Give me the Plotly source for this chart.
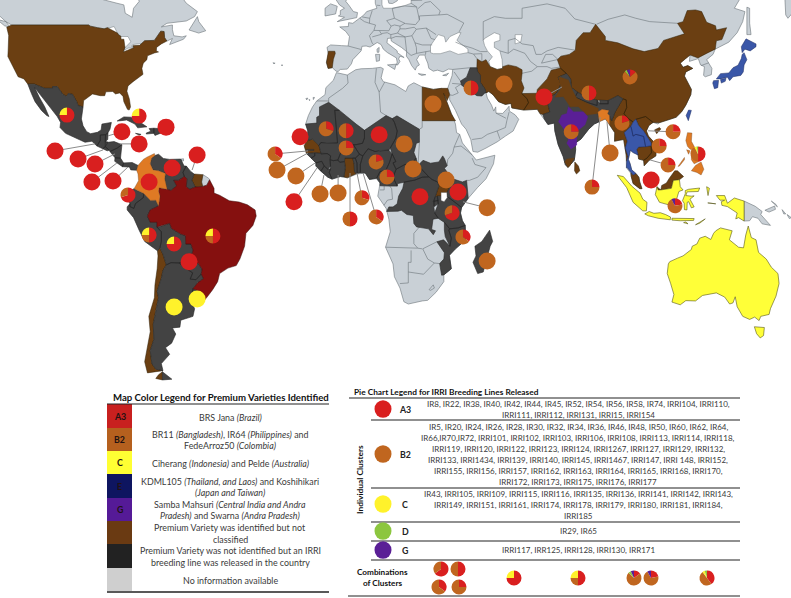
import numpy as np
import plotly.graph_objects as go

W, H = 791, 598
# ---------- map window (degrees) ----------
LON_RANGE = [-127.13, 157.9]
LAT_RANGE = [-57.9, 56.46]
MAP_BOTTOM_PX = 383
# the source map's latitude scale is not uniform: true latitude -> drawn latitude offset (degrees)
LAT_KNOTS = [-60, -55, -44, -34, -11, -7, 0, 12, 25, 45, 49, 60]
LAT_SHIFT = [-2.1, -2.1, -0.9, 0.6, -0.3, -0.6, -1.2, -1.8, -1.5, -0.6, 0, 0]

# ---------- simplified geography, (lon, lat) ----------
GREY_LAND = {
    "Canada": [(-129,60),(-129,53),(-125,50),(-123,49),(-95.2,49),(-94.6,48.7),(-92,48.3),(-89.6,48),(-88.4,48.3),(-84.8,46.9),(-84.5,46.5),(-83.6,46.1),(-83.5,45.3),(-82.5,45.3),(-82.1,43),(-82.7,41.7),(-78.9,42.9),(-79.2,43.5),(-76.8,43.6),(-75,44.9),(-71.5,45),(-70.3,46.2),(-69.2,47.4),(-68,47.3),(-67.8,45.7),(-67,44.8),(-65,45.5),(-66,43.8),(-64,44.4),(-61,45.3),(-60,46.2),(-61.5,45.9),(-64.5,46.2),(-65,47.8),(-65,49),(-69,48.5),(-67,49.5),(-60,50.2),(-57,51.5),(-56,53),(-60,55.5),(-62,58),(-64,60),(-78,60),(-77,56),(-79,54),(-79.5,51.3),(-82,52.5),(-82.5,55),(-85,55.5),(-92,57),(-95,60)],
    "Vancouver": [(-128.3,50.7),(-125,50),(-123.5,48.4),(-125.5,48.8)],
    "Newfoundland": [(-59,47.7),(-56,51.5),(-55.5,50),(-53,47.5),(-55.5,46.9)],
    "Puerto Rico": [(-67.2,18.5),(-65.7,18.4),(-65.9,18),(-67.2,18)],
    "Trinidad": [(-61.9,10.7),(-61,10.8),(-61,10.1),(-61.9,10.1)],
    "French Guiana": [(-54,5.8),(-52,4.7),(-51.6,4.2),(-52.6,2.5),(-54.1,2.1),(-54.5,3.5)],
    "Africa": [(-5.9,35.8),(-2,35.1),(1,36.6),(3,36.9),(7,37),(10,37.3),(11,36.9),(10.2,34.3),(11,33.2),(15.2,32.3),(19.1,30.4),(20,32),(22,32.9),(25,31.7),(29,31),(32,31.3),(32.7,29.9),(33.8,27.5),(35.5,24),(37,21),(37.4,18.5),(38.5,18),(39.5,15.5),(43,12),(43.3,11.5),(44.5,10.4),(51.2,11.9),(50.7,9.2),(48,4.5),(45,1.8),(41.6,-1.7),(39.2,-4.7),(38.8,-6.5),(39.5,-9),(40.5,-10.5),(40.7,-15),(37,-17.8),(34.8,-19.8),(35.5,-24),(32.8,-25.9),(32.8,-28),(30,-31.3),(27,-33.8),(25,-34),(20,-34.8),(18.4,-34.2),(17,-30),(15,-26.5),(14.5,-22.5),(11.8,-17.3),(13.5,-12.5),(13,-8.5),(12,-5),(9,-1),(9.5,1.5),(9.8,3.2),(8.5,4.5),(6,4.3),(4.5,6.3),(1.5,6),(-2,4.8),(-4.5,5.2),(-7.5,4.4),(-9,5),(-11.5,6.9),(-13.3,8.5),(-13.3,9.5),(-15,11),(-16.7,12.4),(-17.5,14.7),(-16.4,16.2),(-16.2,19),(-17,21),(-16,23.5),(-14.5,26),(-13,27.7),(-10,29.5),(-9.7,31.5),(-7,33.6)],
    "Eurasia": [(8.1,60),(8.1,55.5),(8.7,54),(7,53.5),(5,53),(4,52),(2.5,51),(1.5,50.5),(0,49.5),(-1.5,49.7),(-1.6,48.6),(-4.7,48.5),(-2.5,47.3),(-1.2,46),(-1.7,43.4),(-4,43.5),(-8,43.7),(-9.3,43),(-8.8,41),(-9.5,38.7),(-8.9,37),(-7.4,37.2),(-6,36.2),(-5.3,36.1),(-4.5,36.7),(-2,36.8),(-0.5,38.3),(0,39.5),(3,42),(3.3,43.3),(4.8,43.4),(6.2,43.1),(7.5,43.8),(8.8,44.4),(10.2,43.8),(11,42.5),(12.5,41.5),(14,40.8),(15.7,40),(16,38.8),(15.7,38),(16.2,38),(17,39),(16.5,39.7),(17,40.5),(18.5,40.1),(16,41.5),(16,42),(13.5,43.6),(12.3,44.3),(12.5,45.5),(13.7,45.6),(13.9,44.8),(15.2,44.2),(17.5,43),(19.4,41.8),(19.3,40.5),(20.2,39.5),(21.2,37.8),(22.5,36.5),(23,37.5),(24,38),(23,39.5),(24,40.8),(26,40.8),(26.2,40),(27,38.5),(27.4,37),(29,36.2),(30.5,36.5),(32.5,36),(34.5,36.8),(36,36.7),(35.8,35),(35,33),(34.2,31.3),(34.9,29.5),(34.9,28),(37,25),(38.7,22),(39.2,21),(40.8,19.5),(42.5,16.5),(43.3,13),(45,12.8),(48,14),(52,15.8),(55,17.5),(57.8,19),(59.8,22.4),(58.5,23.7),(56.4,24.8),(56.3,26.2),(55.5,25.4),(54,24.1),(51.6,24.2),(51.5,26),(50.8,24.8),(50,26.5),(48.5,28.5),(48,30),(49,30.4),(50.5,29.5),(52.5,27.5),(55,26.7),(57,27),(57.3,25.7),(61.5,25.1),(66.5,25.3),(67.5,24),(69,22.5),(70.3,20.9),(72.6,21.3),(72.8,19),(74,15),(75.8,11.5),(76.6,8.9),(77.5,8.1),(79.8,10.3),(80.3,13.5),(80.2,15.5),(82.2,16.6),(85,19.5),(87,21),(88.8,21.7),(91,22.5),(92.5,20.8),(94.4,18.5),(94.3,16),(96,16.3),(97.6,16.5),(98.5,12),(98.6,8),(100,6.4),(100.3,5.3),(101,3),(103.4,1.4),(104.2,1.4),(103.4,3.5),(103.1,5),(102,6.2),(100.5,7.3),(99.9,9.3),(99.3,10.6),(100,13.4),(101,12.7),(102.8,12),(103,10.7),(104.8,10.3),(105,8.6),(106.8,10.3),(109.2,11.7),(109.3,13.3),(108.8,15.5),(106.5,17.5),(105.8,19),(106.7,20.6),(108.2,21.5),(110,21),(110.4,21.4),(113.5,22.2),(116.5,23),(118.5,24.6),(120,26.5),(121.8,29.5),(122,31),(121,32.5),(119.5,34.8),(120,36),(122.5,37),(120.7,37.8),(119,37.3),(118,38.5),(119,39.3),(121.5,40.8),(121.3,39),(124.5,39.8),(125.3,38),(126.7,37.5),(126.4,35),(127,34.6),(129.2,35.2),(129.4,37),(127.5,39.5),(129.8,41),(130.6,42.5),(132.3,43.2),(135.5,44.5),(138.5,47),(140.5,50),(141.3,53),(137.5,54),(140,57.5),(143,59.5),(152,59.5),(155,60),(155.7,57),(156,52),(156.8,51),(159,53),(162,56),(163,60)],
    "Sweden": [(12.7,60),(12.7,56.5),(13,55.5),(14.3,55.4),(16,56.2),(16.7,57.5),(19,60)],
    "Britain": [(-5.6,50),(-1,50.7),(1.4,51.2),(1.7,52.7),(0.2,53),(-1.5,55),(-2.5,56),(-2,57.5),(-5,58.5),(-6,56.5),(-4.8,55),(-3,54),(-4.5,53.3),(-4.5,52),(-5.2,51.7),(-3,51.3)],
    "Ireland": [(-10,54),(-8,55.3),(-5.6,54.6),(-6.2,52.3),(-10,51.7)],
    "Sicily": [(12.5,38),(15.6,38.2),(15.1,36.7)],
    "Sardinia": [(8.2,41),(9.7,41),(9.6,39.2),(8.5,39)],
    "Corsica": [(8.7,42.5),(9.5,43),(9.4,41.6),(8.8,41.6)],
    "Crete": [(23.6,35.5),(26.3,35.2),(24.8,35)],
    "Cyprus": [(32.4,35),(34.5,35.6),(33.7,34.9)],
    "Tenerife": [(-16.9,28.4),(-16.2,28.5),(-16.6,28)],
    "Gran Canaria": [(-15.8,28.1),(-15.4,28),(-15.6,27.8)],
    "Fuerteventura": [(-14.3,28.7),(-13.8,28.7),(-14.2,28.1)],
    "Azores": [(-28.8,38.6),(-28,38.5),(-28.4,38.3)],
    "Sao Miguel": [(-25.8,37.9),(-25.2,37.9),(-25.5,37.7)],
    "Sakhalin": [(142,54.3),(143,54),(143,49.5),(143.5,46.5),(142,46.5),(142,50)],
    "PNG": [(141,-2.6),(145,-4.3),(147.5,-6),(147,-7),(150.5,-10.5),(147.5,-10),(146,-8.2),(144,-7.7),(143,-9),(141,-9.1)],
    "New Britain": [(148.5,-5.6),(152,-4.2),(152.3,-5.3),(150,-6.2)],
    "New Ireland": [(150.8,-2.6),(153,-4.5),(152.5,-3.7)],
    "Solomon": [(154.7,-5.4),(156,-6.8),(155.3,-6.8)],
    "Bougainville": [(156.5,-7),(158,-8),(157.3,-8.3)],
}
SEAS = {
    "Black Sea": [(28,41.5),(28,43.5),(29.5,45.2),(30.8,46.5),(33,46),(33.5,44.5),(35,46),(38,47),(39,47),(37.5,45),(39,44),(41.5,42.5),(41.5,41.5),(38,41),(35,42),(31.5,41.2),(29,41.2)],
    "Caspian": [(47.5,45.5),(51,47),(53,46.5),(53,45),(51,44.5),(51,43),(53,42),(53.8,39.5),(54,37),(52,36.7),(49.5,37.5),(49,39),(50.3,40.3),(48.5,42),(47.5,43.5),(47,45)],
    "Aral": [(58.5,46.5),(61,46.5),(60.5,44.5),(58.5,44)],
    "Baltic": [(10.5,57),(10.5,55),(11,54),(14,54),(18.5,54.7),(21,55.5),(21,57),(24,58),(24,60),(12,60),(11,58)],
    "Superior": [(-92,46.7),(-89,48),(-86,48.6),(-84.6,46.6),(-87,46.5),(-90,46.6)],
    "Michigan": [(-87.8,42),(-86.4,42),(-86.2,44),(-85,45.8),(-86.5,45.9),(-87.8,44.5)],
    "Huron": [(-84.5,46),(-81,46),(-80,44.6),(-82,43),(-83.5,43.8)],
    "Erie": [(-83.4,41.7),(-81,41.6),(-78.9,42.8),(-81,42.8)],
    "Ontario": [(-79.7,43.3),(-76.3,43.5),(-76.5,44.1),(-79.3,43.8)],
}
GREY_BORDERS = [
    [(-2,35.1),(-1.7,32.8),(-3.7,31.3),(-8.7,28.5),(-8.7,27.3)], [(-13,27.7),(-8.7,27.7)],
    [(8.5,37),(8,33),(9.5,30.2),(10,24.5),(12,23.5)], [(11.5,33.1),(9.5,30.2)], [(25,22),(25,20),(24,19.5)],
    [(25,22),(37,22)], [(38.5,18),(36.5,14.3),(36,12.5),(34.2,10.5),(34,8.6)], [(36.5,14.3),(39,14.6),(41.5,13),(43,12)],
    [(43,11),(44,9),(48,8),(45,5),(42,4),(41,4)], [(23.5,8.7),(24,15.7)],
    [(11.2,-4),(12.5,-2.3),(14.3,-2),(14,1.4),(13.3,2.2)], [(9.8,1),(11.3,1),(11.3,2.2)],
    [(24,-11),(22,-13),(22,-16.2),(23.4,-17.6)], [(11.8,-17.3),(18,-17.4),(23.4,-17.6),(25,-17.8)],
    [(25.2,-17.8),(28,-16.5),(30.3,-15.6)], [(21,-18.3),(21,-22),(20,-22),(20,-28.4),(17,-28.6)],
    [(20,-25),(23,-25.5),(25.5,-25.7),(29.4,-22.2),(31.3,-22.4)], [(25.2,-17.8),(27,-21),(29.4,-22.2)],
    [(27.5,-30.5),(29,-29),(29.4,-30),(28,-30.7),(27.5,-30.5)], [(33,-9.5),(30.8,-8.2)],
    [(-1.7,43.4),(3,42.4)], [(2.5,51),(4.2,50),(6,49.5),(8.2,49),(7.6,47.6),(6,46.2),(7,44.2),(7.5,43.8)],
    [(7,53.3),(6.1,51),(3.4,51.4)], [(6.1,51),(6,49.5)],
    [(14.2,53.9),(14.7,52),(15,51),(12.2,50.3),(13.8,48.7),(13,47.5),(9.6,47.5),(7.6,47.6)], [(8.7,54.9),(9.9,54.8)],
    [(7,45.9),(10.4,46.6),(9.6,47.5)], [(10.4,46.8),(12.4,47),(13.7,46.5),(13.7,45.6)],
    [(14.2,53.9),(18.5,54.7),(23,54.4),(23.6,52),(24,50.5),(22.6,49.1),(19,49.4),(15,51)],
    [(13.8,48.7),(15,49),(17,48.7),(18.8,49.5)], [(17,48.7),(17,48),(19,48),(22.1,48.4)],
    [(16.1,46.9),(17,48)], [(22.1,48.4),(22.9,47.9),(21.3,46.2),(18.8,45.9),(16.1,46.9),(13.7,46.5)],
    [(13.7,45.5),(15.5,46),(18.8,45.9),(19,44.8),(19.4,43),(19.4,41.8)], [(19.4,41.8),(20.5,41),(21,40.7),(23,41.3),(26.3,41.8),(28,42)],
    [(22.4,44.3),(22.9,43),(23,41.3)], [(22.4,44.3),(25,43.7),(28.6,43.7)], [(21.3,46.2),(22.4,44.3)],
    [(22.9,47.9),(26.5,48.2),(28.2,45.5),(29.6,45.2)], [(26.5,48.2),(30,46.5)], [(26.3,41.8),(26.2,40.9)],
    [(24,50.5),(24,51.7),(31,52),(34,52.2),(40,49.6),(38.3,47.2)], [(23.5,53.9),(26,55.7),(28,56),(31.5,53.2),(31,52)],
    [(21,55.5),(23,54.4)], [(21,56.3),(25,56.4)],
    [(47,45),(47,50),(51,51.5),(55,51),(61,51),(61,54),(70,55.3),(76.5,54),(80,50.8),(85.5,49.7),(87.5,49.2)],
    [(37,44.5),(40,43.5),(43,42.8),(46,41.8),(48.5,41.8)], [(41.5,41.5),(43.5,41.1),(46.5,41.2)],
    [(43.5,41.1),(44.8,39.7)], [(46.5,38.9),(46.5,41.2)], [(36,36.7),(42.3,37.2)], [(35.8,32.7),(39,32.5)],
    [(37,31.5),(38,30),(36,29.3),(35,29.4)], [(39,32.5),(37,31.5)], [(38.8,33.4),(36.5,36)],
    [(43,16.5),(46.5,16.9),(48.5,18),(52,19),(53,16.7)], [(52,19),(55,20),(55.5,22),(56.3,24.5)], [(51.6,24.2),(55.2,22.7)],
    [(53,42),(56,41.3),(56,45),(58.5,45.5),(61,44),(65,43.5),(66,41),(68,41),(70,42),(74,43),(80.2,42.2)],
    [(56,41.3),(58,42.5),(62,41.3),(64,39),(66.5,37.5)], [(61,35.6),(64.5,36.2),(66.5,37.5),(70,37.5),(71.5,37),(74.8,37.4)],
    [(68,38.5),(69.5,41),(72,41),(74,39.5)], [(73.7,39.5),(68,38.5)],
    [(87.8,49.2),(92,50.7),(98,52),(102,51),(107,50),(113,49.8),(117,49.5)], [(125.5,37.8),(128.3,38.6)],
]
DARK_COUNTRIES = {
    "Mexico": [(-117.1,32.5),(-114.8,32.5),(-111,31.3),(-108.2,31.3),(-108.2,31.8),(-106.5,31.8),(-104.5,29.6),(-103.2,29),(-102.5,29.8),(-101,29.6),(-99.5,27.5),(-99,26.4),(-97.2,26),(-97.8,22.5),(-97.2,20.5),(-95.9,18.8),(-94.5,18.2),(-92,18.6),(-90.7,19.3),(-90.4,21),(-87,21.5),(-87.5,19.5),(-88.2,18.5),(-89.1,17.9),(-91,17.8),(-91,16.2),(-92.2,14.6),(-94,16),(-96.5,15.7),(-100,17),(-103.5,18.3),(-105.5,20),(-105.3,21.5),(-106.5,23.2),(-109,25.8),(-110.5,27.5),(-112.8,30),(-114.7,31.6),(-113,28.8),(-111,26),(-109.5,23.2),(-110.3,23.5),(-112.2,25),(-114.5,27.5),(-115.8,29.8)],
    "Guatemala": [(-92.2,14.6),(-91,16.2),(-91,17.8),(-89.1,17.9),(-89.2,15.9),(-88.2,15.7),(-89.2,14.4),(-90.1,13.8)],
    "Belize": [(-89.1,17.9),(-88.2,18.5),(-88.3,16.5),(-89.2,15.9)],
    "Honduras": [(-89.2,15.9),(-88.2,15.7),(-86,15.9),(-83.2,15),(-84.9,14),(-87.5,13),(-87.8,13.4),(-89.2,14.4)],
    "El Salvador": [(-90.1,13.8),(-89.2,14.4),(-87.8,13.4),(-88.5,13.2)],
    "Nicaragua": [(-87.5,13),(-84.9,14),(-83.2,15),(-83.7,11),(-85.7,11.1)],
    "Costa Rica": [(-85.7,11.1),(-83.7,11),(-82.6,9.5),(-83,8.3),(-85.8,10)],
    "Panama": [(-83,8.3),(-82.6,9.5),(-79.5,9.6),(-77.4,8.7),(-77.9,7.2),(-80,7.3),(-80.5,8.2)],
    "Cuba": [(-84.9,21.9),(-82.5,23.1),(-80,23),(-77,21.7),(-74.2,20.2),(-77.5,19.9),(-78.5,21),(-81.5,22.2),(-83.5,22)],
    "Jamaica": [(-78.3,18.3),(-76.3,18),(-77,17.8)],
    "Haiti": [(-74.4,18.4),(-72.8,18.9),(-73.4,19.7),(-71.7,19.8),(-71.7,18.3),(-74.4,18.1)],
    "Dominican": [(-71.7,19.8),(-70,19.7),(-68.4,18.6),(-71.3,17.7),(-71.7,18.3)],
    "Venezuela": [(-71.3,11.8),(-70,12.2),(-68.3,10.9),(-66,10.6),(-62,10.7),(-60.8,8.5),(-60,8.5),(-60.7,7.5),(-61.2,6.5),(-60.7,5.2),(-62.8,4),(-64.5,4),(-63.5,2.3),(-65.5,0.8),(-66.9,1.2),(-67.3,2),(-67.8,4.5),(-67.5,6.2),(-70,7),(-72,7.3),(-73,9.2),(-72.5,11)],
    "Guyana": [(-60,8.5),(-58.5,6.9),(-57.2,6),(-58,4),(-56.8,1.9),(-58.8,1.2),(-60,2),(-59.8,4.5),(-60.7,5.2),(-61.2,6.5),(-60.7,7.5)],
    "Ecuador": [(-80.3,-3.4),(-81,-2.2),(-80.1,0.8),(-78.8,1.4),(-77.7,0.8),(-75.3,-0.1),(-75.5,-1.5),(-78.3,-3.4),(-78.9,-5),(-80.3,-4.4)],
    "Peru": [(-81.3,-4.5),(-80.3,-3.4),(-80.3,-4.4),(-78.9,-5),(-78.3,-3.4),(-75.5,-1.5),(-75.3,-0.1),(-72.9,-2.4),(-71,-2.3),(-70,-4.2),(-73,-5.5),(-74,-7.5),(-73,-9.5),(-70.6,-9.5),(-70.6,-11),(-69,-12.5),(-69,-15.5),(-69.5,-17.5),(-70.4,-18.4),(-75,-15.5),(-77,-12),(-79,-8),(-81.3,-5.5)],
    "Bolivia": [(-69.5,-10.9),(-66,-9.8),(-65.3,-11.5),(-62,-13.2),(-60.3,-13.7),(-60.2,-16.3),(-58.3,-16.3),(-57.6,-18.2),(-58.1,-20.2),(-62.6,-22.2),(-65.5,-22.1),(-67.2,-22.8),(-68.4,-19.5),(-69.5,-17.5),(-69,-15.5),(-69,-12.5),(-70.6,-11)],
    "Paraguay": [(-62.6,-22.2),(-58.1,-20.2),(-57.9,-22),(-55.7,-22.3),(-54.3,-24.1),(-54.6,-25.6),(-56.5,-27.4),(-58.6,-27.2),(-57.7,-25.3),(-60,-24)],
    "Uruguay": [(-57.6,-30.2),(-55.6,-30.9),(-53.5,-32.5),(-53.4,-33.7),(-54.9,-34.9),(-57,-34.6),(-58.4,-33.9)],
    "Argentina": [(-67.2,-22.8),(-65.5,-22.1),(-62.6,-22.2),(-60,-24),(-57.7,-25.3),(-58.6,-27.2),(-56.5,-27.4),(-54.6,-25.6),(-53.8,-27.1),(-55.8,-28.3),(-57.6,-30.2),(-58.4,-33.9),(-57,-36),(-57.6,-38),(-62,-39),(-62.3,-40.8),(-65,-41),(-63.8,-42.6),(-65.3,-45),(-67.5,-46.2),(-66,-48),(-69,-50.5),(-68.4,-52.4),(-71,-52),(-72.4,-50.5),(-73,-47),(-71.7,-44),(-71.9,-40),(-71,-36.5),(-70,-33),(-70.5,-31),(-69,-27),(-68.4,-24.5)],
    "Fuego AR": [(-68.6,-52.7),(-65.2,-54.7),(-68.6,-54.9)],
    "Mauritania": [(-16.5,16.2),(-16.2,19),(-17,21),(-13,21.3),(-13,23),(-12,23.5),(-12,26),(-8.7,27.3),(-4.8,25),(-6.5,25),(-5.5,15.5),(-9.3,15.5),(-11.5,15.6),(-12.2,14.8),(-14.5,16.6)],
    "Mali": [(-12.2,14.8),(-11.5,15.6),(-9.3,15.5),(-5.5,15.5),(-6.5,25),(-4.8,25),(1.2,21),(3.2,19.8),(4.2,19.2),(4.2,16.9),(3.5,15.4),(1.2,15),(0,14.9),(-2,14.2),(-3,13.5),(-4.3,12.7),(-5.4,10.4),(-7,10.2),(-8.2,10.5),(-8,11.7),(-9.2,12.4),(-11.4,12.2)],
    "Burkina Faso": [(-5.4,10.4),(-4.3,12.7),(-3,13.5),(-2,14.2),(0,14.9),(0.2,15),(2.4,12.2),(0.9,11),(-2.9,11),(-3,9.9),(-4.7,9.7)],
    "Niger": [(4.2,19.2),(7.4,20.9),(12,23.5),(14.2,22.6),(15,21.5),(16,19),(15.5,16.9),(13.5,14),(13,13.4),(10.5,13.3),(8,13),(5.5,13.8),(3.6,11.7),(2.4,12.2),(0.2,15),(1.2,15),(3.5,15.4),(4.2,16.9)],
    "Chad": [(14.2,22.6),(15.9,23.4),(24,19.5),(24,15.7),(22.9,15.4),(22,12.7),(22.8,11),(21,9),(18.8,9),(15.6,7.5),(14.5,9.5),(15.5,9.9),(14.2,12.3),(13.5,14),(15.5,16.9),(16,19),(15,21.5)],
    "Nigeria": [(2.7,6.4),(2.7,9),(3.6,11.7),(5.5,13.8),(8,13),(10.5,13.3),(13,13.4),(14.2,12.3),(13.2,9.6),(11.8,7),(9.8,6.8),(8.6,4.7),(6,4.3),(4.5,6.3)],
    "Cameroon": [(8.6,4.7),(9.8,6.8),(11.8,7),(13.2,9.6),(14.2,12.3),(15.5,9.9),(14.5,9.5),(15.6,7.5),(14.5,5),(16,2.2),(13.3,2.2),(9.8,2.3),(9.8,3.2)],
    "CAR": [(14.5,5),(15.6,7.5),(18.8,9),(21,9),(22.8,11),(23.5,8.7),(27.4,5.1),(25,5),(22.4,4.1),(18.5,3.5),(16.2,3),(16,2.2)],
    "South Sudan": [(23.5,8.7),(25.3,10.3),(28,9.4),(31,9.8),(32.4,11.7),(33,10.9),(34,8.6),(33,7.8),(35,5.4),(34,4.2),(31,3.8),(30.5,3.5),(28.5,4.3),(27.4,5.1)],
    "DRC": [(12.2,-6),(13,-4.5),(14.5,-4.5),(16,-3.5),(16.5,-1),(18,1.5),(18.5,3.5),(22.4,4.1),(25,5),(27.4,5.1),(28.5,4.3),(30.5,3.5),(31,2.2),(29.6,-1.4),(29.2,-4.5),(29.5,-6.5),(30.8,-8.2),(28.9,-8.5),(28.4,-11.8),(29.8,-12.2),(29,-13.4),(27.3,-11.6),(24.5,-11.2),(23,-11),(22,-9.9),(21.8,-7.3),(19.5,-7),(17.5,-5.6),(16.3,-5.9)],
    "Kenya": [(33.9,-1),(34,0.3),(35,1.9),(34,4.2),(36,4.5),(39.5,3.5),(41,4),(41.6,-1.7),(39.2,-4.7),(37.7,-3.6)],
    "Tanzania": [(30.5,-1),(33.9,-1),(37.7,-3.6),(39.2,-4.7),(38.8,-6.5),(39.5,-9),(40.5,-10.5),(38,-11.3),(34.9,-11.6),(33,-9.5),(30.8,-8.2),(29.5,-6.5),(30.8,-3.5),(30.5,-2.4)],
    "Rwanda": [(29,-2.7),(29.6,-1.4),(30.5,-1),(30.8,-2.4)],
    "Burundi": [(29,-2.7),(30.8,-2.4),(30.8,-3.5),(29.4,-4.4)],
    "Mozambique": [(40.5,-10.5),(40.7,-15),(37,-17.8),(34.8,-19.8),(35.5,-24),(32.8,-25.9),(32,-26),(31.3,-22.4),(32.8,-21),(33,-19),(30.3,-15.6),(32.7,-15),(35,-17),(35.5,-14.5),(34.6,-12),(34.9,-11.6),(38,-11.3)],
    "Malawi": [(33,-9.5),(34.9,-11.6),(34.6,-12),(35.5,-14.5),(35,-17),(33.3,-14),(33,-12)],
    "Madagascar": [(49.3,-12),(50.4,-15.5),(49.5,-17),(47,-25),(45,-25.5),(43.3,-22),(44.4,-20),(44,-17),(46.5,-15.5)],
    "Guinea-Bissau": [(-16.7,12.4),(-13.7,12.6),(-13.7,11.7),(-15,11)],
    "Guinea": [(-13.7,12.6),(-11.4,12.4),(-9.2,12.4),(-8,11.7),(-8.2,10.5),(-8,8.5),(-9,7.5),(-10.3,8.5),(-11.2,10),(-13.3,9.5),(-15,11),(-13.7,11.7)],
    "Sierra Leone": [(-13.3,9.5),(-11.2,10),(-10.3,8.5),(-11.5,6.9),(-13.3,8.5)],
    "Liberia": [(-11.5,6.9),(-10.3,8.5),(-9,7.5),(-8,7.7),(-8.5,6.5),(-7.5,4.4),(-9,5)],
    "Ivory Coast": [(-7.5,4.4),(-8.5,6.5),(-8,7.7),(-8,8.5),(-8.2,10.5),(-7,10.2),(-5.4,10.4),(-4.7,9.7),(-3,9.9),(-2.7,8),(-3.2,5.1),(-4.5,5.2)],
    "Togo": [(0,11),(0.9,11),(1.5,9.5),(1.6,6.2),(1.2,6.1),(0.6,6.8),(0.5,9)],
    "Benin": [(0.9,11),(2.4,12.2),(3.6,11.7),(2.7,9),(2.7,6.4),(1.6,6.2),(1.5,9.5)],
    "Iraq": [(38.8,33.4),(41,34.5),(42.3,37.2),(44.7,37.2),(45,36),(46,35),(46,33),(47.7,31),(48,30),(47.6,30),(46.5,29.1),(44.7,29.2),(39.2,32.2)],
    "India": [(74,34.5),(77,35.5),(78.5,34),(78.8,31.5),(81,30.2),(80.1,28.8),(84,27.4),(88,26.4),(88.1,27.9),(89,26.9),(92,26.9),(92,27.8),(95.5,29.2),(97.3,28.3),(94.5,24.5),(93.3,22),(92.5,23.5),(91.8,24),(92.3,25),(89.8,25.3),(88.3,24.5),(88.8,21.7),(87,21),(85,19.5),(82.2,16.6),(80.2,15.5),(80.3,13.5),(79.8,10.3),(77.5,8.1),(76.6,8.9),(75.8,11.5),(74,15),(72.8,19),(72.6,21.3),(70.3,20.9),(69,22.5),(68.5,23.8),(71,24.5),(70,28),(73.5,30),(75,32.5)],
    "Nepal": [(80.1,28.8),(81,30.2),(84,28.8),(88.1,27.9),(88,26.4),(84,27.4)],
    "Bhutan": [(89,26.9),(89,27.9),(92,27.8),(92,26.9)],
}
BROWN_COUNTRIES = {
    "USA": [(-124.7,48.4),(-123,49),(-95.2,49),(-94.6,48.7),(-92,48.3),(-89.6,48),(-88.4,48.3),(-84.8,46.9),(-84.5,46.5),(-83.6,46.1),(-83.5,45.3),(-82.5,45.3),(-82.1,43),(-82.7,41.7),(-78.9,42.9),(-79.2,43.5),(-76.8,43.6),(-75,44.9),(-71.5,45),(-70.3,46.2),(-69.2,47.4),(-68,47.3),(-67.8,45.7),(-67,44.8),(-69,44),(-70.7,43),(-70.8,42),(-70,41.7),(-71.5,41.4),(-74,40.6),(-74.2,39.5),(-75.5,38.5),(-76,37),(-75.6,35.3),(-77.5,34.3),(-79.2,33.2),(-81,32),(-81.4,30.5),(-80.5,28.2),(-80.1,26),(-80.6,25.1),(-81.2,25.3),(-82.5,27.5),(-82.8,29),(-84,30),(-85.5,29.7),(-86.5,30.4),(-89,30.3),(-89.4,29.2),(-91,29.2),(-93.8,29.7),(-95,29),(-97,27.8),(-97.2,26),(-99,26.4),(-99.5,27.5),(-101,29.6),(-102.5,29.8),(-103.2,29),(-104.5,29.6),(-106.5,31.8),(-108.2,31.8),(-108.2,31.3),(-111,31.3),(-114.8,32.5),(-117.1,32.5),(-118.5,34),(-120.6,34.6),(-122,36.8),(-122.5,37.8),(-123.8,39.5),(-124.3,40.4),(-124.2,42),(-124.1,44),(-124,46.3)],
    "Suriname": [(-57.2,6),(-55,6),(-54,5.8),(-54.5,3.5),(-54.1,2.1),(-56.8,1.9),(-58,4)],
    "Chile": [(-70.4,-18.4),(-69.5,-17.5),(-68.4,-19.5),(-67.2,-22.8),(-68.4,-24.5),(-69,-27),(-70.5,-31),(-70,-33),(-71,-36.5),(-71.9,-40),(-71.7,-44),(-73,-47),(-72.4,-50.5),(-71,-52),(-68.4,-52.4),(-74,-53),(-75,-50),(-74,-46),(-73,-42),(-73.5,-38),(-71.5,-33),(-71.3,-29),(-70.5,-24),(-70.2,-20)],
    "Fuego CL": [(-68.6,-52.7),(-68.6,-54.9),(-71,-54.5),(-70,-53.5)],
    "Portugal": [(-8.8,41.9),(-6.5,41.9),(-6.3,41.3),(-7,39.6),(-7.4,37.2),(-8.9,37),(-9.5,38.7),(-8.8,41)],
    "Senegal": [(-17.5,14.7),(-16.4,16.2),(-14.5,16.6),(-12.2,14.8),(-11.4,12.4),(-13.7,12.6),(-16.7,12.4)],
    "Ghana": [(-3.2,5.1),(-2.7,8),(-3,9.9),(-2.9,11),(0,11),(0.5,9),(0.6,6.8),(1.2,6.1),(-2,4.8)],
    "Uganda": [(29.6,-1.4),(31,2.2),(30.5,3.5),(31,3.8),(34,4.2),(35,1.9),(34,0.3),(33.9,-1),(30.5,-1)],
    "Egypt": [(25,31.7),(29,31),(32,31.3),(34.2,31.3),(34.9,29.5),(34,27.8),(32.7,29.9),(33.8,27.5),(35.5,24),(37,22),(25,22)],
    "Iran": [(44.8,39.7),(46.5,38.9),(48,39.5),(48.9,38.4),(49.5,37.5),(52,36.7),(54,37),(54,37.5),(56,38),(59,37.5),(61,36.6),(61,35.6),(60.7,33.5),(61.7,31.4),(60.9,29.8),(62.8,28.3),(63.3,27.2),(61.6,25.1),(57.3,25.7),(57,27),(55,26.7),(52.5,27.5),(50.5,29.5),(49,30.4),(48,30),(47.7,31),(46,33),(46,35),(45,36),(44.7,37.2)],
    "Pakistan": [(61.6,25.1),(63.3,27.2),(62.8,28.3),(60.9,29.8),(66.3,29.9),(66.5,31),(70,34),(71.5,36.5),(74.8,37.1),(77,35.5),(74,34.5),(75,32.5),(73.5,30),(70,28),(71,24.5),(68.5,23.8),(67.5,24),(66.5,25.3)],
    "China": [(73.7,39.5),(75,40.5),(78,41),(80.2,42.2),(80.5,45),(83,47),(85.5,47),(87.5,49.2),(91,46),(91,45),(95.5,44.3),(101,42.6),(105,41.8),(110,42.7),(112,45),(119.5,46.7),(117,49.5),(119,50),(120.5,53.3),(123.5,53.5),(125.7,53),(127.5,49.8),(130.7,48.8),(131,47.7),(134.7,48.3),(133,45.2),(131,44.9),(130.6,42.5),(128,41.5),(124.4,40),(121.5,40.8),(119,39.3),(118,38.5),(119,37.3),(120.7,37.8),(122.5,37),(120,36),(119.5,34.8),(121,32.5),(122,31),(121.8,29.5),(120,26.5),(118.5,24.6),(116.5,23),(113.5,22.2),(110.4,21.4),(108.2,21.5),(105.5,23.2),(103,22.6),(102,22.4),(101,21.6),(99.5,22.5),(97.7,24),(98.7,25.8),(98.5,28),(97.3,28.3),(95.5,29.2),(92,27.8),(89,27.9),(88.1,27.9),(84,28.8),(81,30.2),(78.8,31.5),(78.5,34),(77,35.5),(74.8,37.1)],
    "Hainan": [(108.7,19.3),(110.5,20),(111,19.6),(109.5,18.2)],
    "Sri Lanka": [(80,9.8),(81.3,8.5),(81.8,7),(80.6,6),(79.9,7)],
    "Myanmar": [(92.5,20.8),(92.5,23.5),(93.3,22),(94.5,24.5),(97.3,28.3),(98.5,28),(98.7,25.8),(97.7,24),(99.5,22.5),(101,21.6),(100.2,20.3),(97.8,18.5),(98.9,16),(98.2,14),(99.2,11.5),(98.7,10),(98.5,12),(97.6,16.5),(96,16.3),(94.3,16),(94.4,18.5)],
    "Cambodia": [(103,14.3),(105.5,14.4),(107.5,14.7),(107.6,12.6),(106,11),(104.8,10.3),(103,10.7),(102.8,12),(102.3,13.6)],
    "Vietnam": [(102,22.4),(103,22.6),(105.5,23.2),(108.2,21.5),(106.7,20.6),(105.8,19),(106.5,17.5),(108.8,15.5),(109.3,13.3),(109.2,11.7),(106.8,10.3),(105,8.6),(104.8,10.3),(106,11),(107.6,12.6),(107.5,14.7),(107.5,15.5),(106.5,16.8),(104.8,19),(103,20.6)],
    "Malaysia W": [(100.3,6.5),(101,5.7),(102,6.2),(103.1,5),(103.4,3.5),(104.2,1.4),(103.4,1.4),(101,3),(100.3,5.3)],
    "Malaysia E": [(109.6,2),(111,1),(111.3,2.4),(113,3.2),(114,4.6),(116,7),(117,7),(119.2,5.2),(117.7,4.2),(115.5,4),(114.8,1.5),(113,1.2),(111,1),(110,1)],
    "India south": [(77.1,10.7),(79.8,11.0),(78.2,8.6),(77.5,8.1),(76.4,9.8)],
}
GAMBIA = {"Gambia": [(-16.7,13.6),(-14,13.6),(-14,13.3),(-16.7,13.2)]}
BRAZIL = {
    "Brazil": [(-51.6,4.2),(-50,1.5),(-50,0),(-48,-0.7),(-44.5,-2.5),(-41,-2.9),(-38,-3.8),(-35.2,-5.5),(-34.8,-7.5),(-36,-10.5),(-38.5,-13),(-39,-17),(-40.7,-21),(-42,-23),(-45,-23.8),(-48,-25.5),(-48.7,-28),(-50.5,-30.5),(-52.5,-32.8),(-53.4,-33.7),(-53.5,-32.5),(-55.6,-30.9),(-57.6,-30.2),(-55.8,-28.3),(-53.8,-27.1),(-54.6,-25.6),(-54.3,-24.1),(-55.7,-22.3),(-57.9,-22),(-58.1,-20.2),(-57.6,-18.2),(-58.3,-16.3),(-60.2,-16.3),(-60.3,-13.7),(-62,-13.2),(-65.3,-11.5),(-66,-9.8),(-69.5,-10.9),(-70.6,-11),(-70.6,-9.5),(-73,-9.5),(-74,-7.5),(-73,-5.5),(-70,-4.2),(-69.5,-1),(-70,0.6),(-69.8,1.7),(-66.9,1.2),(-65.5,0.8),(-63.5,2.3),(-64.5,4),(-62.8,4),(-60.7,5.2),(-59.8,4.5),(-60,2),(-58.8,1.2),(-56.8,1.9),(-54.1,2.1),(-52.6,2.5)],
}
ORANGE_COUNTRIES = {
    "Colombia": [(-77.4,8.7),(-75.5,10.6),(-74.2,11.3),(-71.5,12.4),(-71.3,11.8),(-72.5,11),(-73,9.2),(-72,7.3),(-70,7),(-67.5,6.2),(-67.8,4.5),(-67.3,2),(-66.9,1.2),(-69.8,1.7),(-70,0.6),(-69.5,-1),(-70,-4.2),(-71,-2.3),(-72.9,-2.4),(-75.3,-0.1),(-77.7,0.8),(-78.8,1.4),(-77.2,3.9),(-77.4,6),(-77.9,7.2)],
    "Bangladesh": [(88.8,21.7),(88.3,24.5),(89.8,25.3),(92.3,25),(91.8,24),(92.5,23.5),(92.5,20.8),(91,22.5)],
    "Luzon": [(120.6,18.5),(122.2,18.4),(122,16),(124,13),(121.5,13.7),(120.6,14.5),(120,16.2)],
    "Mindanao": [(122,7),(123.5,8.7),(125.5,9.8),(126.5,7.5),(125.5,5.7),(124,6.5)],
    "Visayas": [(122,11.8),(123,11.5),(125.5,12.5),(125.5,10.3),(123,9.2),(122,10.5)],
    "Palawan": [(117.2,8.4),(119.5,11.2),(119.5,10.5),(117.7,8.5)],
    "Mindoro": [(120.3,13.5),(121.5,13.2),(121,12.2)],
}
YELLOW_COUNTRIES = {
    "Sumatra": [(95.3,5.6),(97.5,5.2),(100.5,2.2),(103.5,0),(104.5,-2),(106,-3),(105.8,-5.8),(104.5,-5.8),(101,-3),(98.7,1.7)],
    "Java": [(105.2,-6.8),(106.8,-6),(108.5,-6.6),(110.8,-6.4),(112.7,-7),(114.5,-7.8),(114.4,-8.7),(110,-8.2),(106.5,-7.4)],
    "Sundas": [(115,-8.2),(119,-8.3),(123,-8.3),(122.8,-8.9),(118,-9),(115,-8.8)],
    "Timor": [(123.5,-10.3),(127,-8.4),(125,-9.8)],
    "Sumba": [(119.2,-9.6),(120.8,-10),(120,-9.4)],
    "Borneo": [(109.6,2),(110,1),(111,1),(113,1.2),(114.8,1.5),(115.5,4),(117.7,4.2),(118,2),(119,1),(117.5,0.5),(116.5,-2.5),(114.5,-4),(110.5,-3),(109,-0.5)],
    "Sulawesi": [(119.8,0.8),(121,1.2),(125,1.6),(124.5,0.5),(120.5,0.4),(120,-0.8),(122,-1),(123,-0.9),(121.5,-2),(123,-4.5),(122,-4.8),(121,-2.8),(120.5,-3),(120.4,-5.5),(119.5,-5.4),(119.4,-3.3),(118.8,-2.5),(119.8,-0.2)],
    "Halmahera": [(127.5,2),(128.5,1.5),(128,-0.8),(127.7,0.5)],
    "Seram": [(127.9,-3.2),(130.8,-3.5),(129,-3.4)],
    "Papua": [(131,-0.8),(134,-0.8),(135,-3.3),(137.5,-1.6),(141,-2.6),(141,-9.1),(139,-8),(138,-8.4),(138.5,-6.5),(135,-4.4),(133,-4),(132.8,-2.8),(134,-2.3),(132.3,-2.3)],
    "Australia": [(113.7,-22.5),(114.2,-21.8),(117,-20.7),(119,-20),(122,-18),(122.3,-17),(124,-16.3),(125,-14.5),(127,-13.9),(129,-14.9),(130,-13),(130.8,-12.2),(132.5,-11.3),(136,-12),(136.7,-12.2),(135.7,-15),(139,-17.3),(140.8,-17.5),(141.6,-13.5),(142.5,-10.7),(143.6,-14.3),(145.3,-15),(146.2,-18.9),(149,-21),(150.8,-23.5),(153.2,-25.5),(153.6,-28.6),(152.5,-32.5),(150.5,-36),(150,-37.5),(147,-38),(146.4,-39.1),(144.8,-38.2),(143,-38.8),(140.5,-38),(138.5,-35.5),(138,-33.5),(137.8,-32.7),(137,-34.5),(135.8,-34.8),(134,-32.8),(131,-31.5),(126,-32.3),(123.5,-34),(120,-33.9),(118,-35),(115,-34.3),(115.7,-32),(114.5,-28.5),(113.3,-25.5)],
    "Tasmania": [(144.7,-40.7),(148.3,-40.9),(148,-43),(146.8,-43.6),(145.5,-42.5)],
}
BLUE_COUNTRIES = {
    "Thailand": [(97.8,18.5),(100.2,20.3),(100.5,19.5),(101,17.5),(102,18),(104.8,17.4),(105.5,14.4),(103,14.3),(102.3,13.6),(102.8,12),(101,12.7),(100,13.4),(99.3,10.6),(99.9,9.3),(100.5,7.3),(102,6.2),(101,5.7),(100.3,6.5),(98.9,8),(98.6,8),(98.7,10),(99.2,11.5),(98.2,14),(98.9,16)],
    "Laos": [(100.2,20.3),(101,21.6),(102,22.4),(103,20.6),(104.8,19),(106.5,16.8),(107.5,15.5),(107.5,14.7),(105.5,14.4),(104.8,17.4),(102,18),(101,17.5),(100.5,19.5)],
    "Taiwan": [(121,25.1),(122,25),(120.9,22),(120.1,23.5)],
    "Hokkaido": [(140.3,41.5),(140,43.2),(141.7,45.4),(145.3,44),(145.3,43.2),(143.2,42),(141.3,42.5)],
    "Honshu": [(141,41.5),(142,39.5),(141,38),(140.7,36),(139.8,35),(137,34.6),(135.8,33.5),(135,34.5),(132.5,34),(131,34),(132.5,35.5),(135.5,35.7),(137,37.2),(138.8,37.9),(140,39.8),(140.3,41)],
    "Shikoku": [(132.5,33.8),(134.5,34.2),(134.2,33.3),(132.8,32.8)],
    "Kyushu": [(130,33.5),(131.8,33.6),(131.5,31.5),(130.3,31.2),(129.7,32.8)],
}
# regions of India read directly in map position (no latitude correction)
INDIA_NORTH = {"North India": [(74.1,33.6),(77.7,32.6),(79.1,29.6),(80.7,27.1),(88.5,24.1),(88.5,22.6),(84.3,22.1),(81.3,24.6),(78.3,24.6),(75.9,27.6),(72.9,27.4),(75.0,30.1)]}
PURPLE_REGION = {"Central India": [(77.7,24.6),(79.5,23.1),(83.1,23.1),(84.7,21.6),(83.7,19.2),(80.7,17.2),(80.7,13.2),(78.6,11.9),(77.1,13.7),(77.7,14.7),(75.9,18.1),(74.1,20.1),(75.3,22.1),(77.1,22.6)]}
VICTORIA = {"Victoria": [(31.8,0.2),(33.9,0.2),(34,-1.5),(32.9,-2.8),(31.8,-2.4)]}

# ---------- pies: lon, lat, [A3, B2, C, D, G] ----------
PIES = [
    (-103.0, 22.1, [75, 0, 25, 0, 0]), (-77.0, 21.8, [75, 0, 25, 0, 0]), (-67.3, 18.5, [100, 0, 0, 0, 0]),
    (-83.2, 17.1, [100, 0, 0, 0, 0]), (-77.0, 13.5, [100, 0, 0, 0, 0]), (-107.3, 11.4, [100, 0, 0, 0, 0]),
    (-99.0, 9.0, [100, 0, 0, 0, 0]), (-92.9, 7.5, [100, 0, 0, 0, 0]), (-94.0, 2.1, [100, 0, 0, 0, 0]),
    (-86.4, 2.4, [100, 0, 0, 0, 0]), (-81.0, -1.75, [70, 30, 0, 0, 0]), (-73.4, 2.1, [100, 0, 0, 0, 0]),
    (-65.1, 6.3, [100, 0, 0, 0, 0]), (-56.1, 10.2, [100, 0, 0, 0, 0]), (-73.4, -13.7, [50, 25, 25, 0, 0]),
    (-64.4, -16.4, [75, 0, 25, 0, 0]), (-50.4, -14.0, [50, 25, 25, 0, 0]), (-59.0, -21.7, [100, 0, 0, 0, 0]),
    (-64.4, -35.2, [0, 0, 100, 0, 0]), (-56.1, -32.8, [0, 0, 100, 0, 0]),
    (-19.0, 15.6, [100, 0, 0, 0, 0]), (-28.0, 10.5, [35, 65, 0, 0, 0]), (-27.3, 5.7, [0, 100, 0, 0, 0]),
    (-20.5, 3.9, [0, 100, 0, 0, 0]), (-21.2, -3.8, [100, 0, 0, 0, 0]), (-11.8, -1.5, [0, 100, 0, 0, 0]),
    (-5.3, -1.2, [0, 100, 0, 0, 0]), (-1.0, -8.9, [50, 50, 0, 0, 0]), (3.3, -2.6, [30, 70, 0, 0, 0]),
    (8.4, -8.3, [35, 65, 0, 0, 0]), (-9.6, 18.0, [30, 70, 0, 0, 0]), (-2.4, 17.4, [50, 50, 0, 0, 0]),
    (-2.4, 12.3, [25, 75, 0, 0, 0]), (9.5, 16.2, [100, 0, 0, 0, 0]), (18.5, 13.5, [0, 100, 0, 0, 0]),
    (8.4, 8.1, [20, 80, 0, 0, 0]), (12.3, 3.6, [25, 75, 0, 0, 0]), (21.7, 6.0, [0, 100, 0, 0, 0]),
    (33.6, 2.7, [0, 100, 0, 0, 0]), (24.2, -2.3, [100, 0, 0, 0, 0]), (37.9, -0.9, [100, 0, 0, 0, 0]),
    (48.4, -5.6, [0, 100, 0, 0, 0]), (35.8, -7.1, [70, 30, 0, 0, 0]), (39.7, -14.3, [35, 65, 0, 0, 0]),
    (48.4, -21.5, [0, 100, 0, 0, 0]), (42.6, 30.2, [50, 50, 0, 0, 0]), (54.5, 31.4, [0, 100, 0, 0, 0]),
    (28.9, 25.4, [0, 100, 0, 0, 0]), (68.9, 27.5, [100, 0, 0, 0, 0]), (99.9, 33.5, [14, 74, 0, 5, 7]),
    (85.1, 28.7, [50, 50, 0, 0, 0]), (78.7, 17.1, [25, 75, 0, 0, 0]), (97.0, 19.7, [20, 80, 0, 0, 0]),
    (86.2, 0.6, [25, 75, 0, 0, 0]), (92.7, 10.8, [0, 100, 0, 0, 0]), (115.4, 17.1, [25, 75, 0, 0, 0]),
    (110.4, 12.9, [25, 75, 0, 0, 0]), (113.6, 7.2, [25, 75, 0, 0, 0]), (107.5, 2.7, [100, 0, 0, 0, 0]),
    (116.1, -5.0, [22, 70, 0, 0, 8]), (124.4, 10.5, [50, 42, 5, 3, 0]),
]
# leader lines: pie lon, pie lat, target lon, target lat
LEADERS = [
    (-107.3, 11.4, -92.9, 13.5), (-99.0, 9.0, -90.0, 11.7), (-92.9, 7.5, -85.7, 10.5), (-94.0, 2.1, -85.0, 7.8),
    (-86.4, 2.4, -81.0, 6.6), (-77.0, 13.5, -83.9, 13.5), (-83.2, 17.1, -88.2, 15.9), (-56.1, 10.2, -57.9, 5.7),
    (-28.0, 10.5, -16.1, 11.4), (-27.3, 5.7, -16.1, 10.8), (-20.5, 3.9, -13.6, 7.8), (-21.2, -3.8, -12.9, 6.3),
    (-11.8, -1.5, -10.4, 4.2), (-5.3, -1.2, -5.3, 4.2), (-1.0, -8.9, -1.0, 4.8), (3.3, -2.6, 1.5, 4.8),
    (8.4, -8.3, 3.7, 4.8), (48.4, -5.6, 39.7, -3.8), (86.2, 0.6, 89.1, 21.5), (92.7, 10.8, 91.6, 20.0),
    (115.4, 17.1, 106.4, 17.4), (113.6, 7.2, 107.1, 8.7), (68.9, 27.5, 75.4, 30.5),
]

# ---------- legend content ----------
MAP_LEGEND_TITLE = "Map Color Legend for Premium Varieties Identified"
MAP_LEGEND_CODES = ["A3", "B2", "C", "E", "G", "", "", ""]
MAP_LEGEND_ROWS = [
    ["BRS Jana <i>(Brazil)</i>"],
    ["BR11 <i>(Bangladesh)</i>, IR64 <i>(Philippines)</i> and", "FedeArroz50 <i>(Colombia)</i>"],
    ["Ciherang <i>(Indonesia)</i> and Pelde <i>(Australia)</i>"],
    ["KDML105 <i>(Thailand, and Laos)</i> and Koshihikari", "<i>(Japan and Taiwan)</i>"],
    ["Samba Mahsuri <i>(Central India and Andra</i>", "<i>Pradesh)</i> and Swarna <i>(Andra Pradesh)</i>"],
    ["Premium Variety was identified but not", "classified"],
    ["Premium Variety was not identified but an IRRI", "breeding line was released in the country"],
    ["No information available"],
]
PIE_LEGEND_TITLE = "Pie Chart Legend for IRRI Breeding Lines Released"
PIE_LEGEND_CODES = ["A3", "B2", "C", "D", "G"]
PIE_LEGEND_ROWS = [
    ["IR8, IR22, IR38, IR40, IR42, IR44, IR45, IR52, IR54, IR56, IR58, IR74, IRRI104, IRRI110,",
     "IRRI111, IRRI112, IRRI131, IRRI15, IRRI154"],
    ["IR5, IR20, IR24, IR26, IR28, IR30, IR32, IR34, IR36, IR46, IR48, IR50, IR60, IR62, IR64,",
     "IR66,IR70,IR72, IRRI101, IRRI102, IRRI103, IRRI106, IRRI108, IRRI113, IRRI114, IRRI118,",
     "IRRI119, IRRI120, IRRI122, IRRI123, IRRI124, IRRI1267, IRRI127, IRRI129, IRRI132,",
     "IRRI133, IRRI1434, IRRI139, IRRI140, IRRI145, IRRI1467, IRRI147, IRRI 148, IRRI152,",
     "IRRI155, IRRI156, IRRI157, IRRI162, IRRI163, IRRI164, IRRI165, IRRI168, IRRI170,",
     "IRRI172, IRRI173, IRRI175, IRRI176, IRRI177"],
    ["IR43, IRRI105, IRRI109, IRRI115, IRRI116, IRRI135, IRRI136, IRRI141, IRRI142, IRRI143,",
     "IRRI149, IRRI151, IRRI161, IRRI174, IRRI178, IRRI179, IRRI180, IRRI181, IRRI184,",
     "IRRI185"],
    ["IR29, IR65"],
    ["IRRI117, IRR125, IRRI128, IRRI130, IRR171"],
]
COMBO_PIES = [[65, 35, 0, 0, 0], [50, 50, 0, 0, 0], [35, 65, 0, 0, 0], [25, 75, 0, 0, 0], [75, 0, 25, 0, 0],
              [50, 25, 25, 0, 0], [15, 72, 0, 6, 7], [22, 70, 0, 0, 8], [40, 50, 5, 5, 0]]

# ---------- styles ----------
C_RED, C_ORANGE, C_YELLOW, C_GREEN, C_PURPLE = "#d91f1f", "#c0661f", "#fff22b", "#8cc63f", "#5a1f96"
PIE_COLORS = [C_RED, C_ORANGE, C_YELLOW, C_GREEN, C_PURPLE]
MAP_GREY, MAP_DARK, MAP_BROWN = "#c9d0d6", "#434343", "#6b3f12"
FONT = "Lato"


def px_x(x): return x / W
def px_y(y): return 1 - y / H
def lon_px(lon): return (lon - LON_RANGE[0]) / (LON_RANGE[1] - LON_RANGE[0]) * W
def lat_px(lat): return (LAT_RANGE[1] - lat) / (LAT_RANGE[1] - LAT_RANGE[0]) * MAP_BOTTOM_PX
def warp(lat): return lat + float(np.interp(lat, LAT_KNOTS, LAT_SHIFT))


fig = go.Figure()


def add_group(shapes_, fill, line, lw=0.6, name=None, closed=True, correct=True):
    xs, ys = [], []
    for pts in shapes_:
        seq = list(pts) + ([pts[0]] if closed else [])
        xs += [p[0] for p in seq] + [None]
        ys += [warp(p[1]) if correct else p[1] for p in seq] + [None]
    fig.add_trace(go.Scatter(x=xs, y=ys, mode="lines", fill="toself" if closed else None, fillcolor=fill,
                             line=dict(color=line, width=lw), hoverinfo="skip", showlegend=False, name=name))


add_group(list(GREY_LAND.values()), MAP_GREY, "#6c7479", 0.6, "no information")
add_group(list(SEAS.values()), "white", "#6c7479", 0.5, "water")
add_group([GREY_LAND["Sweden"]], MAP_GREY, "#6c7479", 0.6, "Sweden")
add_group(GREY_BORDERS, None, "#6c7479", 0.6, "borders", closed=False)
add_group(list(BROWN_COUNTRIES.values()), MAP_BROWN, "#2e2008", 0.5, "unclassified")
add_group(list(DARK_COUNTRIES.values()), MAP_DARK, "#262626", 0.6, "line released")
add_group(list(GAMBIA.values()), MAP_DARK, "#262626", 0.4, "Gambia")
add_group(list(INDIA_NORTH.values()), MAP_BROWN, MAP_BROWN, 0.3, "North India", correct=False)
add_group([BROWN_COUNTRIES["India south"]], MAP_BROWN, MAP_BROWN, 0.3, "South India")
add_group(list(BRAZIL.values()), "#85100f", "#3a0a0a", 0.5, "A3")
add_group(list(ORANGE_COUNTRIES.values()), "#df7a24", "#7a4a20", 0.4, "B2")
add_group(list(YELLOW_COUNTRIES.values()), "#ffff38", "#55551a", 0.6, "C")
add_group(list(BLUE_COUNTRIES.values()), "#3a57a8", "#1e2c60", 0.5, "E")
add_group(list(PURPLE_REGION.values()), "#5a1f96", "#5a1f96", 0.3, "G", correct=False)
add_group(list(VICTORIA.values()), "white", "#555555", 0.4, "Victoria")

lx, ly = [], []
for a, b, c, d in LEADERS:
    lx += [a, c, None]
    ly += [b, d, None]
fig.add_trace(go.Scatter(x=lx, y=ly, mode="lines", line=dict(color="#8c8c8c", width=1), hoverinfo="skip", showlegend=False))


def add_pie(cx, cy, r, vals):
    fig.add_trace(go.Pie(values=vals, sort=False, direction="clockwise", rotation=0, textinfo="none", hoverinfo="skip",
                         showlegend=False, marker=dict(colors=PIE_COLORS, line=dict(width=0)),
                         domain=dict(x=[(cx - r) / W, (cx + r) / W], y=[1 - (cy + r) / H, 1 - (cy - r) / H])))


for lon, lat, vals in PIES:
    add_pie(lon_px(lon), lat_px(lat), 8.5 if max(vals) == 100 else 7.5, vals)

COMBO_POS = [(441, 569), (458, 569), (439, 587), (459, 587), (514, 578), (578, 578), (634, 578), (651, 578), (707, 578)]
for (cx, cy), vals in zip(COMBO_POS, COMBO_PIES):
    add_pie(cx, cy, 7.5, vals)

shapes, ann = [], []


def hline(x0, x1, y, w=1.1, col="#222222"):
    shapes.append(dict(type="line", xref="paper", yref="paper", x0=px_x(x0), x1=px_x(x1), y0=px_y(y), y1=px_y(y),
                       line=dict(color=col, width=w)))


def text(x, y, s, size=8.0, bold=False, angle=0, col="#3a3a3a", anchor="center"):
    ann.append(dict(x=px_x(x), y=px_y(y), xref="paper", yref="paper", text=f"<b>{s}</b>" if bold else s, showarrow=False,
                    font=dict(family=FONT, size=size, color=col), textangle=angle, xanchor=anchor, yanchor="middle",
                    borderpad=0))


# left legend
text(112, 397.5, MAP_LEGEND_TITLE, 9.6, True, col="#111111", anchor="left")
SWATCHES = ["#c8201f", "#b5601e", "#ffff33", "#0e1560", "#551a97", "#6a3a12", "#222222", "#cfcfcf"]
ROW_EDGES = [404, 428, 451, 474, 498, 521, 544, 568, 591]
LINE_Y = [[417], [434, 446], [463], [481, 492], [504, 515.5], [527, 539], [550, 562], [580]]
for i, c in enumerate(SWATCHES):
    shapes.append(dict(type="rect", xref="paper", yref="paper", x0=px_x(107), x1=px_x(132), y0=px_y(ROW_EDGES[i + 1]),
                       y1=px_y(ROW_EDGES[i]), fillcolor=c, line=dict(width=0)))
    if MAP_LEGEND_CODES[i]:
        text(119.5, (ROW_EDGES[i] + ROW_EDGES[i + 1]) / 2, MAP_LEGEND_CODES[i], 8.8, True, col="#221111")
    for y, s in zip(LINE_Y[i], MAP_LEGEND_ROWS[i]):
        text(230, y, s, 8.9)
hline(107, 329, 404, 1.2)
hline(107, 329, 592, 1.6)

# right legend
text(353, 391.5, PIE_LEGEND_TITLE, 8.3, True, col="#111111", anchor="left")
hline(349, 740, 398, 1.2)
for y in [420, 488, 522, 541, 560]:
    hline(371, 740, y, 1.2)
hline(348, 740, 596, 1.2)
CIRC_Y = [409, 454, 504, 531, 550]
CIRC_COL = [C_RED, C_ORANGE, C_YELLOW, C_GREEN, C_PURPLE]
RIGHT_LINE_Y = [[404, 415], [427, 438, 448.5, 459.5, 471, 482], [494, 505, 516], [531], [550]]
for i, y in enumerate(CIRC_Y):
    shapes.append(dict(type="circle", xref="paper", yref="paper", x0=px_x(374.5), x1=px_x(391.5), y0=px_y(y + 8.7),
                       y1=px_y(y - 8.7), fillcolor=CIRC_COL[i], line=dict(width=0)))
    text(405, y, PIE_LEGEND_CODES[i], 8.8, True, col="#222222")
    for ly_, s in zip(RIGHT_LINE_Y[i], PIE_LEGEND_ROWS[i]):
        text(578, ly_, s)
text(360, 480, "Individual Clusters", 8.4, True, angle=-90, col="#111111")
text(382, 572, "Combinations", 8.2, True, col="#111111")
text(382, 583, "of Clusters", 8.2, True, col="#111111")

fig.update_layout(
    width=W, height=H, margin=dict(l=0, r=0, t=0, b=0), paper_bgcolor="white", plot_bgcolor="white", showlegend=False,
    xaxis=dict(range=LON_RANGE, visible=False, domain=[0, 1], fixedrange=True),
    yaxis=dict(range=LAT_RANGE, visible=False, domain=[1 - MAP_BOTTOM_PX / H, 1], fixedrange=True),
    shapes=shapes, annotations=ann, font=dict(family=FONT),
)
fig.write_html("out.html", config={"displayModeBar": False},
               post_script="document.body.style.margin='0';document.documentElement.style.overflow='hidden';")
